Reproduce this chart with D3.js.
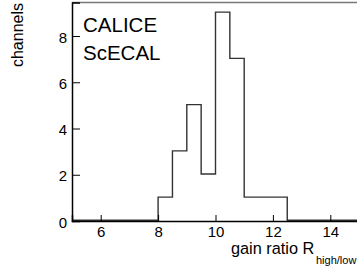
<!DOCTYPE html>
<html><head><meta charset="utf-8">
<script src="https://cdn.jsdelivr.net/npm/d3@7"></script>
<style>body{margin:0;background:#fff}svg{display:block;font-family:"Liberation Sans",Arial,sans-serif}</style>
</head><body><svg id="c" width="357" height="270"></svg>
<script>
const binEdgesStart = 5, binWidth = 0.5;
const counts = [0,0,0,0,0,0,1,3,5,2,9,7,1,1,1,0,0,0,0,0];
const xTicks = [6,8,10,12,14];
const yTicks = [0,2,4,6,8];
const xDomain = [5,15], yDomain = [0,9.45];

const svg = d3.select("#c");
const x = d3.scaleLinear().domain(xDomain).range([72,359]);
const y = d3.scaleLinear().domain(yDomain).range([221,2.5]);

// frame top
svg.append("line").attr("x1",x(5)).attr("x2",360).attr("y1",y(9.45)).attr("y2",y(9.45))
  .attr("stroke","#777").attr("stroke-width",1.5);

// histogram step path
const pts = [];
counts.forEach((c,i)=>{
  const x0 = binEdgesStart + i*binWidth, x1 = x0 + binWidth;
  pts.push([x(x0),y(c)],[x(x1),y(c)]);
});
svg.append("path").attr("d", d3.line()(pts)).attr("fill","none")
  .attr("stroke","#333").attr("stroke-width",1.4).attr("transform","translate(0,-0.8)");

// axes
const xAxis = d3.axisBottom(x).tickValues(xTicks).tickSize(-6).tickPadding(10).tickFormat(d3.format("d"));
const gx = svg.append("g").attr("transform","translate(0,221)").call(xAxis);
gx.select(".domain").attr("stroke","#000").attr("stroke-width",1.5);
gx.selectAll(".tick line").attr("stroke","#000");
gx.selectAll("text").attr("font-size",15).attr("font-family","Liberation Sans, Arial").attr("fill","#000").attr("dy","0.72em").attr("y",5.5);

const yAxis = d3.axisLeft(y).tickValues(yTicks).tickSize(-8).tickPadding(5).tickFormat(d3.format("d"));
const gy = svg.append("g").attr("transform","translate(72,0)").call(yAxis);
gy.select(".domain").attr("stroke","#000").attr("stroke-width",1.5);
gy.selectAll(".tick line").attr("stroke","#000");
gy.selectAll("text").attr("font-size",15).attr("font-family","Liberation Sans, Arial").attr("fill","#000").attr("x",-5).attr("dy","0.4em");

// titles
svg.append("text").attr("transform","translate(23,3) rotate(-90)").attr("text-anchor","end")
  .attr("font-size",16).text("channels");
svg.append("text").attr("x",231).attr("y",254).attr("font-size",16.3).text("gain ratio R");
svg.append("text").attr("x",316).attr("y",264).attr("font-size",11).text("high/low");

svg.append("text").attr("x",83).attr("y",32).attr("font-size",20.5).text("CALICE");
svg.append("text").attr("x",83).attr("y",60).attr("font-size",20.5).text("ScECAL");
</script></body></html>
